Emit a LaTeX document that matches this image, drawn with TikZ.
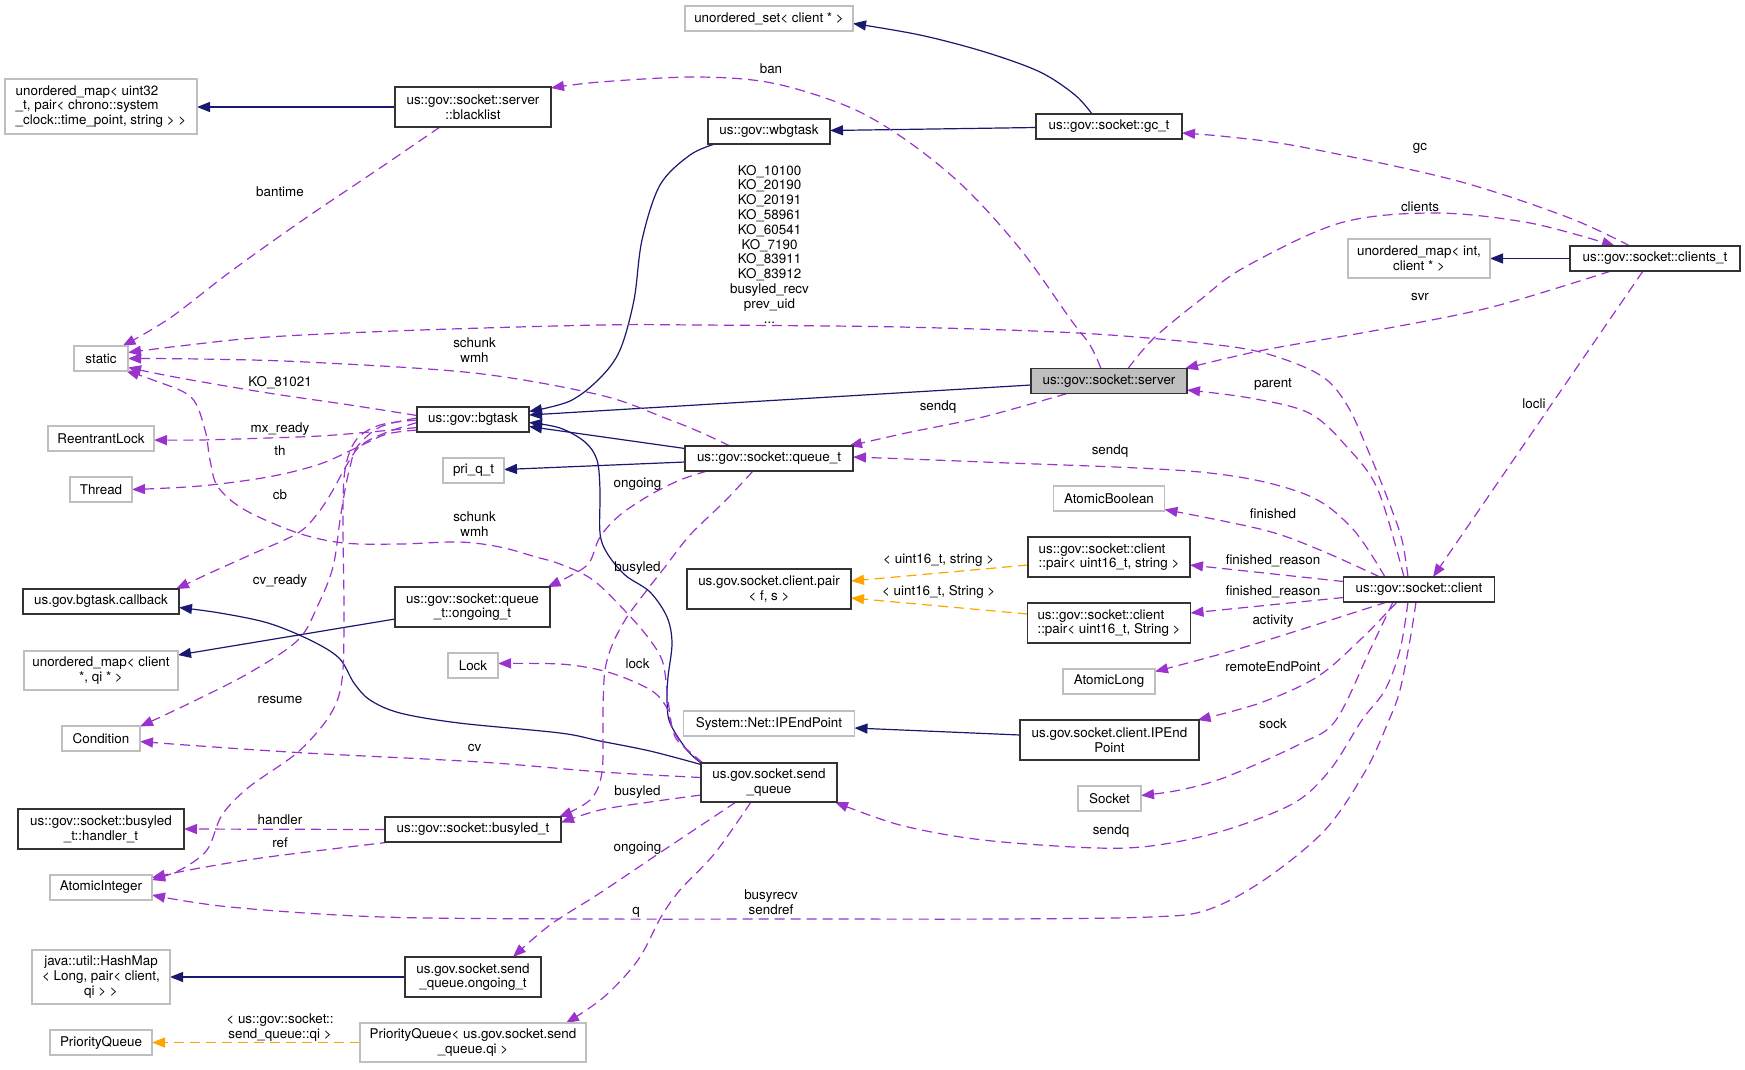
\documentclass[tikz,border=0pt]{standalone}
\usepackage{fontspec}
\setmainfont{TeX Gyre Heros}
\usetikzlibrary{arrows.meta,calc,backgrounds}
\definecolor{navyc}{HTML}{191970}
\definecolor{purpc}{HTML}{9A32CD}
\definecolor{orngc}{HTML}{FFA500}
\definecolor{greyc}{HTML}{BFBFBF}
\newcommand\ep[3]{\coordinate (#1) at ($(#2)+(#3)$);}
\begin{document}
\begin{tikzpicture}[x=1pt,y=-1pt,
  every node/.style={font=\fontsize{13.4pt}{14.8pt}\selectfont},
  box/.style={line width=1.1pt, inner xsep=3pt, inner ysep=2pt, align=center, minimum height=25pt, fill=white, text=black},
  gbox/.style={box, draw=greyc},
  bbox/.style={box, draw=black!80},
  sbox/.style={box, draw=black!80, fill=greyc},
  lbl/.style={inner sep=0pt, align=center, text=black},
  einh/.style={draw=navyc, line width=1.2pt, -{Triangle[length=13pt,width=10pt]}},
  euse/.style={draw=purpc, line width=1.2pt, dash pattern=on 10pt off 6pt, -{Triangle[length=13pt,width=10pt]}},
  etmpl/.style={draw=orngc, line width=1.2pt, dash pattern=on 10pt off 6pt, -{Triangle[length=13pt,width=10pt]}},
  ps/.style={smooth, tension=0.55}
]
\path[use as bounding box] (0,0) rectangle (1745,1069);

% ---------- nodes ----------
\node[gbox, align=left, minimum width=192pt, minimum height=55pt] (umap32) at (101,106.5) {unordered\_map< uint32\\\_t, pair< chrono::system\\\_clock::time\_point, string > >};
\node[bbox, minimum width=156pt, minimum height=40pt] (blacklist) at (473,107) {us::gov::socket::server\\::blacklist};
\node[gbox, minimum width=168pt] (uset) at (769,18.5) {unordered\_set< client * >};
\node[bbox, minimum width=122pt] (wbgtask) at (769,131.5) {us::gov::wbgtask};
\node[bbox, minimum width=146pt] (gct) at (1109,126.5) {us::gov::socket::gc\_t};
\node[gbox, minimum width=142pt, minimum height=39pt] (umapint) at (1419,258.5) {unordered\_map< int,\\client * >};
\node[bbox, minimum width=170pt] (clientst) at (1655,258.5) {us::gov::socket::clients\_t};
\node[gbox, minimum width=54pt] (static) at (101,358.5) {static};
\node[sbox, minimum width=156pt] (server) at (1109,381) {us::gov::socket::server};
\node[bbox, minimum width=112pt] (bgtask) at (473,419.5) {us::gov::bgtask};
\node[gbox, minimum width=106pt] (rlock) at (101,438.5) {ReentrantLock};
\node[gbox, minimum width=62pt] (thread) at (101,489.5) {Thread};
\node[gbox, minimum width=61pt] (priq) at (473.5,470.5) {pri\_q\_t};
\node[bbox, minimum width=168pt] (queuet) at (769,458.5) {us::gov::socket::queue\_t};
\node[gbox, minimum width=111pt] (atomb) at (1109,498.5) {AtomicBoolean};
\node[bbox, align=left, minimum width=162pt, minimum height=40pt] (pairs) at (1109,557) {us::gov::socket::client\\::pair< uint16\_t, string >};
\node[bbox, align=left, minimum width=163pt, minimum height=40pt] (pairS) at (1109,623) {us::gov::socket::client\\::pair< uint16\_t, String >};
\node[bbox, minimum width=164pt, minimum height=40pt] (cpair) at (769,589) {us.gov.socket.client.pair\\< f, s >};
\node[bbox, minimum width=151pt] (client) at (1419,589.5) {us::gov::socket::client};
\node[bbox, minimum width=156pt] (callback) at (101,601.5) {us.gov.bgtask.callback};
\node[bbox, minimum width=155pt, minimum height=40pt] (qongoing) at (472.5,607) {us::gov::socket::queue\\\_t::ongoing\_t};
\node[gbox, minimum width=154pt, minimum height=39pt] (umapcl) at (101,670.5) {unordered\_map< client\\*, qi * >};
\node[gbox, minimum width=50pt] (lock) at (473,665.5) {Lock};
\node[gbox, minimum width=92pt] (atoml) at (1109,681.5) {AtomicLong};
\node[gbox, minimum width=171pt] (sysip) at (769,723.5) {System::Net::IPEndPoint};
\node[bbox, minimum width=179pt, minimum height=40pt] (clip) at (1109.5,740) {us.gov.socket.client.IPEnd\\Point};
\node[gbox, minimum width=78pt] (condition) at (101,738.5) {Condition};
\node[bbox, minimum width=136pt, minimum height=39pt] (sendq) at (769,782.5) {us.gov.socket.send\\\_queue};
\node[gbox, minimum width=63pt] (socket) at (1109.5,798.5) {Socket};
\node[bbox, minimum width=166pt, minimum height=40pt] (handler) at (101,829) {us::gov::socket::busyled\\\_t::handler\_t};
\node[bbox, minimum width=176pt] (busyled) at (473,829.5) {us::gov::socket::busyled\_t};
\node[gbox, minimum width=102pt] (atomi) at (101,887.5) {AtomicInteger};
\node[gbox, minimum width=138pt, minimum height=54pt] (hashmap) at (101,977) {java::util::HashMap\\< Long, pair< client,\\qi > >};
\node[bbox, minimum width=136pt, minimum height=40pt] (songoing) at (473,977) {us.gov.socket.send\\\_queue.ongoing\_t};
\node[gbox, minimum width=102pt] (pq) at (101,1042.5) {PriorityQueue};
\node[gbox, minimum width=226pt, minimum height=39pt] (pqs) at (473,1042.5) {PriorityQueue< us.gov.socket.send\\\_queue.qi >};

% ---------- labels ----------
\node[lbl] (l01) at (280,192) {bantime};
\node[lbl] (l02) at (771,69) {ban};
\node[lbl] (l03) at (769.5,244) {KO\_10100\\KO\_20190\\KO\_20191\\KO\_58961\\KO\_60541\\KO\_7190\\KO\_83911\\KO\_83912\\busyled\_recv\\prev\_uid\\...};
\node[lbl] (l04) at (1420,148) {gc};
\node[lbl] (l05) at (1420,207) {clients};
\node[lbl] (l06) at (1420,297) {svr};
\node[lbl] (l07) at (474.5,350) {schunk\\wmh};
\node[lbl] (l08) at (280,383) {KO\_81021};
\node[lbl] (l09) at (1273,384) {parent};
\node[lbl] (l10) at (1534,404) {locli};
\node[lbl] (l11) at (938,407) {sendq};
\node[lbl] (l12) at (280,429) {mx\_ready};
\node[lbl] (l13) at (280,451) {th};
\node[lbl] (l14) at (1110,451) {sendq};
\node[lbl] (l15) at (637.5,484) {ongoing};
\node[lbl] (l16) at (280,494.5) {cb};
\node[lbl] (l17) at (1273,514) {finished};
\node[lbl] (l18) at (474.5,524.5) {schunk\\wmh};
\node[lbl] (l19) at (938.7,560) {< uint16\_t, string >};
\node[lbl] (l20) at (1273,561) {finished\_reason};
\node[lbl] (l21) at (637.5,568) {busyled};
\node[lbl] (l22) at (280,581) {cv\_ready};
\node[lbl] (l23) at (938.7,592) {< uint16\_t, String >};
\node[lbl] (l24) at (1273,592) {finished\_reason};
\node[lbl] (l25) at (1273,621) {activity};
\node[lbl] (l26) at (637.5,664) {lock};
\node[lbl] (l27) at (1273,667) {remoteEndPoint};
\node[lbl] (l28) at (280,700) {resume};
\node[lbl] (l29) at (1273,724) {sock};
\node[lbl] (l30) at (474.5,748) {cv};
\node[lbl] (l31) at (637.5,792) {busyled};
\node[lbl] (l32) at (280,820) {handler};
\node[lbl] (l33) at (1111,831) {sendq};
\node[lbl] (l34) at (280,843) {ref};
\node[lbl] (l35) at (637.5,848) {ongoing};
\node[lbl] (l36) at (771,902.5) {busyrecv\\sendref};
\node[lbl] (l37) at (636,912) {q};
\node[lbl] (l38) at (280,1027.5) {< us::gov::socket::\\send\_queue::qi >};

% ---------- edge end points ----------
\ep{a2}{gct}{-17,-12.5} \ep{b2}{uset}{84,5}
\ep{a5}{wbgtask}{-54,12.5} \ep{b5}{bgtask}{56,-8}
\ep{a9}{sendq}{-68,-19.5} \ep{b9}{bgtask}{56,3}
\ep{a11}{sendq}{-68,-18} \ep{b11}{callback}{78,6}
\ep{a17}{server}{-8,-12.5} \ep{b17}{blacklist}{78,-19}
\ep{a18}{blacklist}{-33,20} \ep{b18}{static}{21.5,-12.5}
\ep{a19}{client}{-11,-12.5} \ep{b19}{static}{27,-6}
\ep{a20}{queuet}{-39,-12.5} \ep{b20}{static}{27,0}
\ep{a21}{bgtask}{-56,-4} \ep{b21}{static}{27,9}
\ep{a22}{sendq}{-66,-19.5} \ep{b22}{static}{25,12.5}
\ep{a23}{bgtask}{-56,8} \ep{b23}{rlock}{53,1.5}
\ep{a24}{bgtask}{-56,10.5} \ep{b24}{thread}{31,0}
\ep{a25}{bgtask}{-56,3} \ep{b25}{callback}{75,-12.5}
\ep{a26}{bgtask}{-56,-1.5} \ep{b26}{condition}{39,-12}
\ep{a27}{bgtask}{-56,0.5} \ep{b27}{atomi}{51,-7.5}
\ep{a28}{server}{-42,12.5} \ep{b28}{queuet}{80,-12.5}
\ep{a29}{queuet}{-62,12.5} \ep{b29}{qongoing}{75,-20}
\ep{a30}{queuet}{-16,12.5} \ep{b30}{busyled}{86,-12.5}
\ep{a31}{sendq}{-68,12.5} \ep{b31}{busyled}{88,-7}
\ep{a32}{sendq}{-68,-5} \ep{b32}{condition}{39,3}
\ep{a33}{sendq}{-67,-19.5} \ep{b33}{lock}{25,-2}
\ep{a35}{busyled}{-83,12.5} \ep{b35}{atomi}{51,-10}
\ep{a36}{client}{-3,12.5} \ep{b36}{atomi}{51,7.5}
\ep{a37}{sendq}{-33,19.5} \ep{b37}{songoing}{40,-20}
\ep{a38}{sendq}{-18,19.5} \ep{b38}{pqs}{93,-19.5}
\ep{a39}{clientst}{-25,-12.5} \ep{b39}{gct}{73,6.5}
\ep{a40}{server}{19,-12.5} \ep{b40}{clientst}{-40,-12.5}
\ep{a41}{clientst}{-44,12.5} \ep{b41}{server}{76,-12.5}
\ep{a42}{clientst}{-12,12.5} \ep{b42}{client}{14,-12.5}
\ep{a43}{client}{-15,-12.5} \ep{b43}{server}{78,9}
\ep{a44}{client}{-34,-12.5} \ep{b44}{queuet}{84,-1.5}
\ep{a45}{client}{-39,-12.5} \ep{b45}{atomb}{55.5,11}
\ep{a46}{client}{-75.5,-8} \ep{b46}{pairs}{81,8}
\ep{a47}{client}{-75.5,8} \ep{b47}{pairS}{81.5,-10}
\ep{a48}{client}{-32,12.5} \ep{b48}{atoml}{46,-10}
\ep{a49}{client}{-22,12.5} \ep{b49}{clip}{88,-20}
\ep{a50}{client}{-26,12.5} \ep{b50}{socket}{31.5,-3}
\ep{a51}{client}{-11,12.5} \ep{b51}{sendq}{66,19.5}

% ---------- edges ----------
\begin{scope}[on background layer]
\fill[white] (0,0) rectangle (1745,1069);
% inheritance
\draw[einh] ($(blacklist)+(-78,0)$) -- ($(umap32)+(96,0.5)$);
\draw[einh] plot[ps] coordinates {(a2) (1075,95) (1040,72) (985,52) (920,35) (b2)};
\draw[einh] ($(gct)+(-73,1)$) -- ($(wbgtask)+(61,-1)$);
\draw[einh] ($(clientst)+(-85,0)$) -- ($(umapint)+(71,0)$);
\draw[einh] plot[ps] coordinates {(a5) (690,155) (660,185) (642,240) (634,300) (620,350) (600,378) (570,401) (b5)};
\draw[einh] ($(server)+(-78,4)$) -- ($(bgtask)+(56,-4.5)$);
\draw[einh] ($(queuet)+(-84,-10)$) -- ($(bgtask)+(56,7)$);
\draw[einh] ($(queuet)+(-84,3.5)$) -- ($(priq)+(30.5,-1)$);
\draw[einh] plot[ps] coordinates {(a9) (687,750) (670,723) (667,700) (668,677) (672,643) (667,617) (650,592) (625,575) (607,553) (600,533) (600,490) (597,460) (585,442) (560,428) (b9)};
\draw[einh] ($(qongoing)+(-77.5,12)$) -- ($(umapcl)+(77,-15.5)$);
\draw[einh] plot[ps] coordinates {(a11) (650,751) (600,741) (560,733) (459,723) (400,713) (370,700) (354,683) (339,658) (310,640) (268,623) (220,613) (b11)};
\draw[einh] ($(songoing)+(-68,0)$) -- ($(hashmap)+(69,0)$);
\draw[einh] ($(clip)+(-89.5,-5)$) -- ($(sysip)+(85.5,4.5)$);
% template
\draw[etmpl] ($(pairs)+(-81,8)$) -- ($(cpair)+(82,-8)$);
\draw[etmpl] ($(pairS)+(-81.5,-9)$) -- ($(cpair)+(82,9)$);
\draw[etmpl] ($(pqs)+(-113,0)$) -- ($(pq)+(51,0)$);
% usage
\draw[euse] plot[ps] coordinates {(a17) (1090,345) (1071,320) (1021,250) (964,187) (906,140) (849,107) (772,83) (696,77) (600,82) (b17)};
\draw[euse] plot[ps] coordinates {(a18) (380,168) (300,222) (230,272) (170,318) (b18)};
\draw[euse] plot[ps] coordinates {(a19) (1402,540) (1390,505) (1370,455) (1347,405) (1320,375) (1264,353) (1200,343) (1078,333) (900,327) (700,325) (600,325) (421,330) (268,337) (180,346) (b19)};
\draw[euse] plot[ps] coordinates {(a20) (700,432) (665,418) (600,395) (474,373) (306,362) (200,359) (b20)};
\draw[euse] plot[ps] coordinates {(a21) (350,405) (268,393) (180,378) (b21)};
\draw[euse] plot[ps] coordinates {(a22) (690,752) (677,740) (672,727) (668,700) (663,663) (650,640) (627,613) (593,580) (560,564) (536,557) (500,547) (459,542) (400,544) (344,543) (298,533) (245,510) (218,487) (210,460) (205,430) (191,397) (153,380) (b22)};
\draw[euse] plot[ps] coordinates {(a23) (370,432) (320,436) (268,438) (200,440) (b23)};
\draw[euse] plot[ps] coordinates {(a24) (387,434) (360,446) (320,464) (268,477) (200,486) (b24)};
\draw[euse] plot[ps] coordinates {(a25) (385,433) (360,446) (345,468) (333,490) (318,513) (298,533) (250,555) (210,573) (b25)};
\draw[euse] plot[ps] coordinates {(a26) (380,427) (357,447) (350,467) (345,490) (340,520) (333,567) (318,605) (298,640) (249,673) (190,703) (b26)};
\draw[euse] plot[ps] coordinates {(a27) (380,425) (356,440) (345,470) (343,520) (344,613) (342,680) (330,715) (298,752) (249,787) (222,815) (207,850) (180,870) (b27)};
\draw[euse] plot[ps] coordinates {(a28) (983,417) (906,433) (b28)};
\draw[euse] plot[ps] coordinates {(a29) (680,480) (650,495) (620,515) (600,537) (589,563) (570,576) (b29)};
\draw[euse] plot[ps] coordinates {(a30) (726,500) (690,535) (665,567) (647,590) (627,617) (613,643) (605,670) (603,710) (602,772) (590,800) (b30)};
\draw[euse] plot[ps] coordinates {(a31) (650,802) (600,810) (b31)};
\draw[euse] plot[ps] coordinates {(a32) (602,772) (480,762) (306,753) (200,746) (b32)};
\draw[euse] plot[ps] coordinates {(a33) (685,748) (672,728) (668,710) (655,693) (630,680) (600,670) (560,664) (b33)};
\draw[euse] ($(busyled)+(-88,0)$) -- ($(handler)+(83,0)$);
\draw[euse] plot[ps] coordinates {(a35) (268,857) (200,868) (b35)};
\draw[euse] plot[ps] coordinates {(a36) (1410,640) (1400,690) (1389,720) (1366,770) (1325,830) (1264,880) (1207,910) (1150,917) (1000,919) (800,919) (600,919) (383,917) (230,907) (b36)};
\draw[euse] plot[ps] coordinates {(a37) (700,826) (661,852) (600,893) (550,925) (b37)};
\draw[euse] plot[ps] coordinates {(a38) (715,853) (680,890) (661,917) (638,960) (604,997) (b38)};
\draw[euse] plot[ps] coordinates {(a39) (1567,217) (1454,180) (1302,147) (1230,137) (b39)};
\draw[euse] plot[ps] coordinates {(a40) (1154,338) (1200,300) (1245,267) (1340,223) (1435,213) (1530,223) (b40)};
\draw[euse] plot[ps] coordinates {(a41) (1492,307) (1378,330) (1264,350) (b41)};
\draw[euse] (a42) -- (b42);
\draw[euse] plot[ps] coordinates {(a43) (1378,490) (1347,447) (1309,413) (1250,398) (b43)};
\draw[euse] plot[ps] coordinates {(a44) (1351,527) (1302,493) (1200,472) (983,462) (b44)};
\draw[euse] plot[ps] coordinates {(a45) (1320,550) (1264,530) (b45)};
\draw[euse] (a46) -- (b46);
\draw[euse] (a47) -- (b47);
\draw[euse] plot[ps] coordinates {(a48) (1245,647) (b48)};
\draw[euse] plot[ps] coordinates {(a49) (1360,640) (1317,677) (1260,703) (b49)};
\draw[euse] plot[ps] coordinates {(a50) (1370,650) (1336,720) (1302,743) (1226,777) (1180,790) (b50)};
\draw[euse] plot[ps] coordinates {(a51) (1400,650) (1385,690) (1362,720) (1330,770) (1294,803) (1226,830) (1158,845) (1097,848) (983,840) (900,825) (b51)};
\end{scope}
\end{tikzpicture}
\end{document}
